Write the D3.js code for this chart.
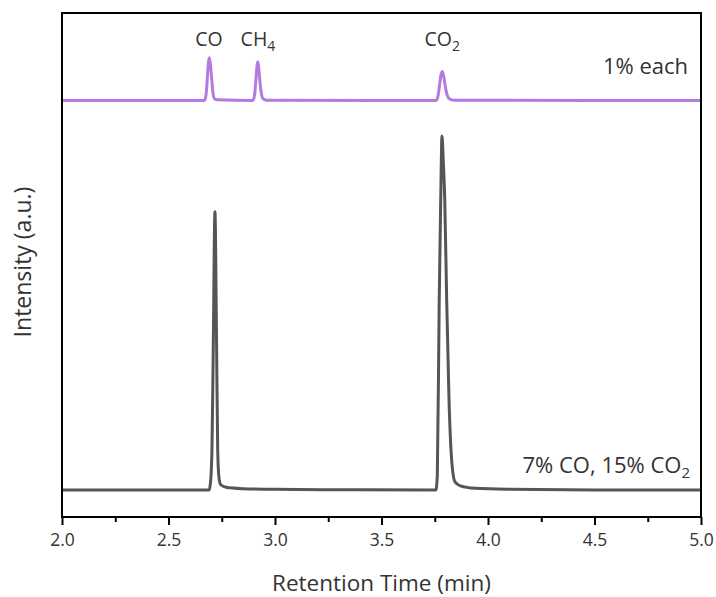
<!DOCTYPE html>
<html>
<head>
<meta charset="utf-8">
<script src="https://cdn.jsdelivr.net/npm/d3@7"></script>
<style>
  body { margin: 0; background: #fff; }
  svg { display: block; font-family: "Open Sans", sans-serif; font-weight: 400; }
</style>
</head>
<body>
<div id="chart"></div>
<script>
// Mixture: 7% CO, 15% CO2 (retention time in min, intensity a.u.)
const mixTime = [2.0, 2.5, 2.69, 2.697, 2.704, 2.71, 2.718, 2.726, 2.731, 2.737, 2.745, 2.77, 2.85, 3.0, 3.3,
    3.755, 3.762, 3.771, 3.778, 3.784, 3.79, 3.797, 3.806, 3.817, 3.83, 3.845, 3.87, 3.94, 4.1, 4.5, 5.0];
const mixIntensity = [0, 0, 0, 2, 11.3, 39.5, 78.6, 39.5, 11.3, 3.5, 1.5, 0.8, 0.4, 0.2, 0.1,
    0, 4, 53.7, 81.9, 100, 93, 81.9, 53.7, 25.4, 8, 2.3, 1.2, 0.5, 0.2, 0, 0];

// Calibration standard: 1% each of CO, CH4, CO2
const stdTime = [2.0, 2.5, 2.668, 2.676, 2.682, 2.687, 2.6915, 2.696, 2.703, 2.709, 2.716, 2.73,
    2.896, 2.904, 2.91, 2.915, 2.919, 2.923, 2.929, 2.936, 2.945, 2.96,
    3.5, 3.757, 3.766, 3.773, 3.779, 3.785, 3.791, 3.798, 3.806, 3.818, 3.84, 4.5, 5.0];
const stdIntensity = [0, 0, 0, 1.5, 6, 10.5, 12.06, 10.5, 6, 2, 0.5, 0.2,
    0, 1.5, 5.5, 9.5, 10.93, 9.5, 5.5, 2, 0.4, 0.1,
    0, 0, 1.5, 4.5, 7.2, 8.19, 7.2, 4.5, 2, 0.5, 0.1, 0, 0];
const stdOffset = 110;

const peakLabels = [
    { name: "CO", sub: "", time: 2.69, intensity: 125.4 },
    { name: "CH", sub: "4", time: 2.92, intensity: 125.4 },
    { name: "CO", sub: "2", time: 3.785, intensity: 125.4 }
];

const xTicks = [2.0, 2.5, 3.0, 3.5, 4.0, 4.5, 5.0];
const xMinorTicks = [2.25, 2.75, 3.25, 3.75, 4.25, 4.75];

const width = 716, height = 597;
const margin = { top: 13, right: 15, bottom: 80, left: 62 };
const plotW = width - margin.left - margin.right;
const plotH = height - margin.top - margin.bottom;

const svg = d3.select("#chart").append("svg")
    .attr("width", width)
    .attr("height", height);

const chart = svg.append("g")
    .attr("transform", `translate(${margin.left},${margin.top})`);

const x = d3.scaleLinear().domain([2.0, 5.0]).range([0, plotW]);
const y = d3.scaleLinear().domain([-7.6, 134.7]).range([plotH, 0]);

const line = d3.line()
    .x(d => x(d[0]))
    .y(d => y(d[1]))
    .curve(d3.curveMonotoneX);

const mixData = mixTime.map((t, i) => [t, mixIntensity[i]]);
const stdData = stdTime.map((t, i) => [t, stdIntensity[i] + stdOffset]);

chart.append("path")
    .datum(stdData)
    .attr("d", line)
    .attr("fill", "none")
    .attr("stroke", "#b57ae0")
    .attr("stroke-width", 3)
    .attr("stroke-linejoin", "round");

chart.append("path")
    .datum(mixData)
    .attr("d", line)
    .attr("fill", "none")
    .attr("stroke", "#555555")
    .attr("stroke-width", 3)
    .attr("stroke-linejoin", "round");

// peak labels
const pl = chart.selectAll(".peak-label")
    .data(peakLabels)
    .join("text")
    .attr("class", "peak-label")
    .attr("x", d => x(d.time))
    .attr("y", d => y(d.intensity))
    .attr("text-anchor", "middle")
    .attr("font-size", 19.5)
    .attr("fill", "#333");
pl.append("tspan").text(d => d.name);
pl.append("tspan")
    .attr("dy", 5)
    .attr("font-size", 14)
    .text(d => d.sub);

// series labels
chart.append("text")
    .attr("x", plotW - 13)
    .attr("y", y(117.6))
    .attr("text-anchor", "end")
    .attr("font-size", 22)
    .attr("fill", "#333")
    .text("1% each");

const mixLabel = chart.append("text")
    .attr("x", plotW - 11)
    .attr("y", y(4.7))
    .attr("text-anchor", "end")
    .attr("font-size", 22)
    .attr("fill", "#333");
mixLabel.append("tspan").text("7% CO, 15% CO");
mixLabel.append("tspan").attr("dy", 5).attr("font-size", 15).text("2");

// frame
chart.append("rect")
    .attr("width", plotW)
    .attr("height", plotH)
    .attr("fill", "none")
    .attr("stroke", "#000")
    .attr("stroke-width", 2);

// x axis
const xAxis = chart.append("g")
    .attr("transform", `translate(0,${plotH})`)
    .call(d3.axisBottom(x).tickValues(xTicks).tickSize(8).tickPadding(9).tickFormat(d3.format(".1f")));
xAxis.select(".domain").remove();
xAxis.selectAll("line").attr("stroke", "#000").attr("stroke-width", 2);
xAxis.selectAll("text")
    .attr("font-size", 17.5)
    .attr("font-family", "Open Sans, sans-serif")
    .attr("fill", "#333");

chart.append("g")
    .attr("transform", `translate(0,${plotH})`)
    .call(d3.axisBottom(x).tickValues(xMinorTicks).tickSize(5).tickFormat(""))
    .call(g => g.select(".domain").remove())
    .selectAll("line").attr("stroke", "#000").attr("stroke-width", 2);

// axis titles
svg.append("text")
    .attr("x", margin.left + plotW / 2)
    .attr("y", 591)
    .attr("text-anchor", "middle")
    .attr("font-size", 22.5)
    .attr("fill", "#333")
    .text("Retention Time (min)");

svg.append("text")
    .attr("transform", `translate(31,${margin.top + 249}) rotate(-90)`)
    .attr("text-anchor", "middle")
    .attr("font-size", 23)
    .attr("fill", "#333")
    .text("Intensity (a.u.)");
</script>
</body>
</html>
